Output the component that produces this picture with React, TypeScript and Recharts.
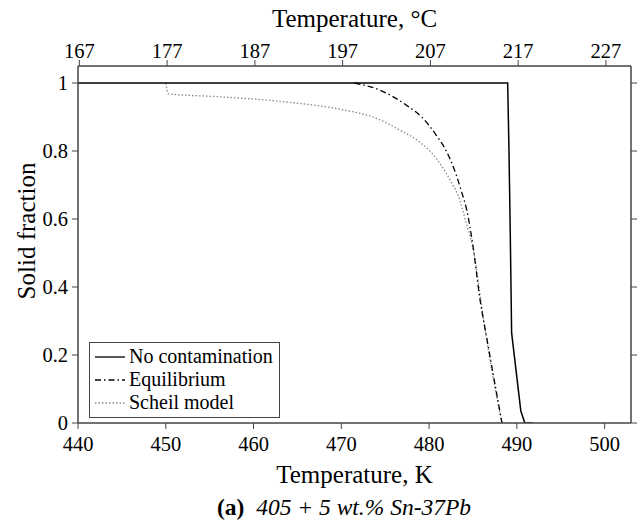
import React from 'react';
import { LineChart, Line, XAxis, YAxis, Legend } from 'recharts';

// temperature in K, solid fraction
const noContamT = [440, 488.95, 489.1, 489.25, 489.4, 490.45, 490.9, 491.8];
const noContamF = [1, 1, 0.8, 0.55, 0.265, 0.035, 0, 0];

const equilT = [471.5, 474.4, 477.4, 479.3, 480.8, 482.0, 483.1, 483.7, 484.3, 485.0, 485.8, 486.6, 488.3];
const equilF = [1, 0.979, 0.935, 0.896, 0.847, 0.798, 0.729, 0.68, 0.625, 0.52, 0.363, 0.245, 0];

const scheilT = [450, 450.3, 455.8, 463.4, 470.8, 473.6, 476.7, 478.9, 480.5, 481.6, 482.7, 483.3, 484.1, 485.2, 485.9, 486.9, 488.3];
const scheilF = [1, 0.968, 0.96, 0.945, 0.918, 0.9, 0.861, 0.827, 0.788, 0.749, 0.7, 0.67, 0.6, 0.487, 0.36, 0.19, 0];

const kTicks = [440, 450, 460, 470, 480, 490, 500];
const cTicks = [167, 177, 187, 197, 207, 217, 227];
const fTicks = [0, 0.2, 0.4, 0.6, 0.8, 1];

const toPoints = (t: number[], f: number[]) => t.map((v, i) => ({ t: v, f: f[i] }));

const FONT = 'Liberation Serif, Times New Roman, serif';
const AXIS = '#444';

const tickText = (anchor: string, dy: string) => (props: any) => (
  <text
    x={props.x}
    y={props.y}
    dy={dy}
    textAnchor={anchor}
    style={{ fontFamily: FONT, fontSize: 20.5, fill: '#000' }}
  >
    {String(props.payload.value)}
  </text>
);

const titleStyle = { fontSize: 25, fill: '#000', fontFamily: FONT };

const legendItems = [
  { name: 'No contamination', dash: undefined, color: '#000' },
  { name: 'Equilibrium', dash: '6 3 1.5 3', color: '#000' },
  { name: 'Scheil model', dash: '1.5 2', color: '#888' },
];

const LegendBox = () => (
  <div style={{ border: '1.5px solid #444', background: '#fff', padding: '2px 6px 3px 5px', fontFamily: FONT, fontSize: 20, lineHeight: '23px' }}>
    {legendItems.map(it => (
      <div key={it.name} style={{ display: 'flex', alignItems: 'center', whiteSpace: 'nowrap' }}>
        <svg width={32} height={10} style={{ marginRight: 2 }}>
          <line x1={0} y1={5} x2={30} y2={5} stroke={it.color} strokeWidth={1.3} strokeDasharray={it.dash} />
        </svg>
        <span>{it.name}</span>
      </div>
    ))}
  </div>
);

const App: React.FC = () => {
  return (
    <div style={{ position: 'absolute', left: 0, top: 0, width: 637, height: 531, background: '#fff', fontFamily: FONT }}>
      <LineChart width={637} height={531} margin={{ top: 0, right: 0, bottom: 0, left: 0 }} style={{ fontFamily: FONT }}>
        <XAxis
          dataKey="t"
          type="number"
          domain={[440, 503]}
          ticks={kTicks}
          allowDataOverflow
          height={108}
          tickSize={6}
          tickMargin={7}
          tick={tickText('middle', '0.71em')}
          axisLine={{ stroke: AXIS, strokeWidth: 1.5 }}
          tickLine={{ stroke: AXIS }}
          label={{ value: 'Temperature, K', position: 'insideTop', offset: 42, style: titleStyle }}
        />
        <XAxis
          xAxisId="top"
          dataKey="c"
          orientation="top"
          type="number"
          domain={[166.85, 229.85]}
          ticks={cTicks}
          allowDataOverflow
          height={66}
          tickSize={6}
          tickMargin={2}
          tick={tickText('middle', '0')}
          axisLine={{ stroke: AXIS, strokeWidth: 1.5 }}
          tickLine={{ stroke: AXIS }}
          label={{ value: 'Temperature, °C', position: 'insideTop', offset: 9, style: titleStyle }}
        />
        <YAxis
          dataKey="f"
          type="number"
          domain={[0, 1.05]}
          ticks={fTicks}
          allowDataOverflow
          width={78}
          tickSize={6}
          tickMargin={4}
          tick={tickText('end', '0.35em')}
          axisLine={{ stroke: AXIS, strokeWidth: 1.5 }}
          tickLine={{ stroke: AXIS }}
          label={{
            content: () => (
              <text x={26} y={231} transform="rotate(-90 26 231)" textAnchor="middle" dominantBaseline="central" style={titleStyle}>
                Solid fraction
              </text>
            ),
          }}
        />
        <YAxis
          yAxisId="right"
          orientation="right"
          type="number"
          domain={[0, 1.05]}
          ticks={fTicks}
          allowDataOverflow
          width={6}
          tickSize={6}
          tickFormatter={() => ''}
          axisLine={{ stroke: AXIS, strokeWidth: 1.5 }}
          tickLine={{ stroke: AXIS }}
        />
        <Legend
          layout="horizontal"
          verticalAlign="middle"
          content={() => <LegendBox />}
          wrapperStyle={{ position: 'absolute', left: 89, top: 342, width: 'auto' }}
        />
        {/* carrier for the °C axis, draws nothing */}
        <Line xAxisId="top" yAxisId="right" data={cTicks.map(c => ({ c }))} dataKey="f" stroke="none" dot={false} legendType="none" isAnimationActive={false} />
        <Line type="monotone" data={toPoints(scheilT, scheilF)} dataKey="f" name="Scheil model" stroke="#888" strokeWidth={1.3} strokeDasharray="1.5 2" dot={false} isAnimationActive={false} />
        <Line type="monotone" data={toPoints(equilT, equilF)} dataKey="f" name="Equilibrium" stroke="#000" strokeWidth={1.3} strokeDasharray="6 3 1.5 3" dot={false} isAnimationActive={false} />
        <Line data={toPoints(noContamT, noContamF)} dataKey="f" name="No contamination" stroke="#000" strokeWidth={1.5} dot={false} isAnimationActive={false} />
      </LineChart>
      <div style={{ position: 'absolute', left: 217, top: 494, fontFamily: FONT, fontSize: 23.5, whiteSpace: 'pre' }}>
        <b>(a)</b>{'  '}<i>405 + 5 wt.% Sn-37Pb</i>
      </div>
    </div>
  );
};

export default App;
